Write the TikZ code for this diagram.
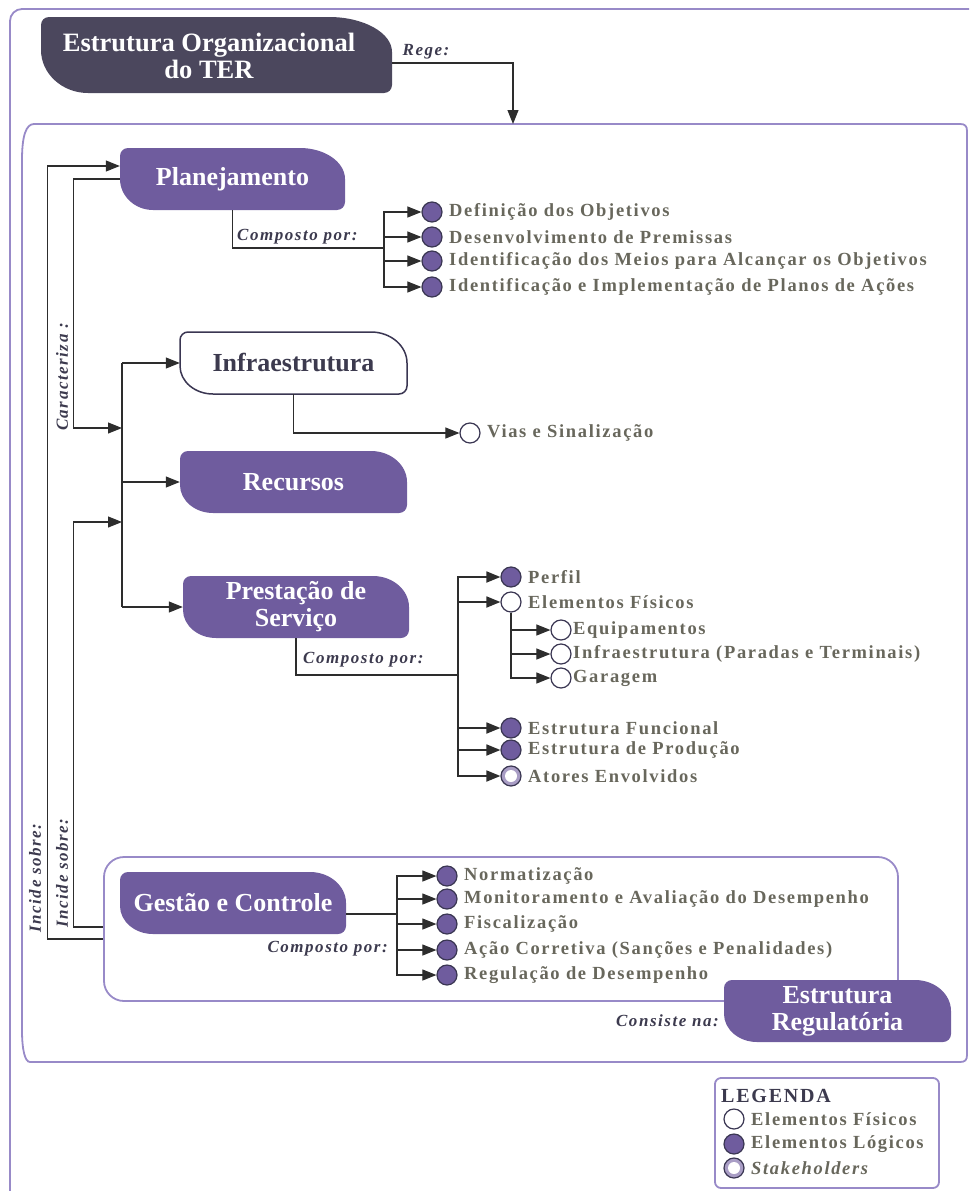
\documentclass[tikz,border=0pt]{standalone}
\usepackage{fontspec}
\setmainfont{Liberation Serif}
\newfontfamily\spaced[LetterSpace=9]{Liberation Serif}
\usetikzlibrary{arrows.meta,calc}
\definecolor{purp}{RGB}{111,92,158}
\definecolor{hdr}{RGB}{75,71,93}
\definecolor{frm}{RGB}{152,138,200}
\definecolor{itm}{RGB}{104,103,92}
\definecolor{lbl}{RGB}{60,58,78}
\definecolor{ln}{RGB}{45,45,45}
\definecolor{circ}{RGB}{58,54,82}
% #1 style, #2 x1, #3 y1, #4 x2, #5 y2, #6 RxTR, #7 RyTR, #8 RxBL, #9 RyBL
\newcommand{\leafshape}[9]{%
 \path[#1] ({#2},{#5-#9}) -- ({#2},{#3+8}) .. controls ({#2},{#3+3.6}) and ({#2+3.6},{#3}) .. ({#2+8},{#3})
 -- ({#4-#6},{#3}) .. controls ({#4-0.45*#6},{#3}) and ({#4},{#3+0.45*#7}) .. ({#4},{#3+#7})
 -- ({#4},{#5-8}) .. controls ({#4},{#5-3.6}) and ({#4-3.6},{#5}) .. ({#4-8},{#5})
 -- ({#2+#8},{#5}) .. controls ({#2+0.45*#8},{#5}) and ({#2},{#5-0.45*#9}) .. ({#2},{#5-#9}) -- cycle;}
\tikzset{
 box/.style={fill=purp},
 wbox/.style={fill=white, draw=circ, line width=1.5pt},
 btext/.style={text=white, font=\fontsize{26}{27}\selectfont\bfseries, align=center, inner sep=0pt},
 item/.style={anchor=west, text=itm, font=\spaced\fontsize{18.5}{20}\selectfont\bfseries, inner sep=0pt},
 lab/.style={text=lbl, font=\spaced\fontsize{17}{19}\selectfont\bfseries\itshape, inner sep=0pt},
 logi/.style={circle, draw=circ, fill=purp, line width=1.2pt, minimum size=20pt, inner sep=0pt},
 phys/.style={circle, draw=circ, fill=white, line width=1.2pt, minimum size=20pt, inner sep=0pt},
 stake/.style={circle, draw=circ, fill=purp!60, line width=1.2pt, minimum size=20pt, inner sep=0pt,
   path picture={\fill[white] (path picture bounding box.center) circle[radius=6pt];}},
 conn/.style={draw=ln, line width=1.1pt},
 comp/.style={draw=ln, line width=1.8pt},
 tip/.style={-{Triangle[length=14pt,width=11pt]}},
 frame/.style={draw=frm, line width=1.8pt},
}
\begin{document}
\begin{tikzpicture}[x=1pt,y=-1pt]
\useasboundingbox (0,0) rectangle (969,1191);
\clip (0,0) rectangle (969,1191);
% outer frame
\draw[frame, rounded corners=12pt] (10,1200) -- (10,9) -- (990,9);
% inner frame
\draw[frame] (22,1030) -- (22,160) .. controls (22,136) and (26,124) .. (34,124) -- (960,124)
  .. controls (965,124) and (967,126) .. (967,131) -- (967,1055) .. controls (967,1060) and (965,1062) .. (960,1062)
  -- (30,1062) .. controls (25,1062) and (22,1050) .. (22,1030);
\coordinate (innertop) at (513,124);

% header
\leafshape{fill=hdr}{41}{17}{392}{93}{63}{35}{47}{43}
\node[inner sep=0pt, minimum width=351pt, minimum height=76pt] (head) at (216.5,55) {};
\node[btext, font=\fontsize{26.5}{27}\selectfont\bfseries] (headtxt) at (209,56) {Estrutura Organizacional\\do TER};
\node[lab] (rege) at (426,52) {Rege:};
\draw[conn,tip] ([yshift=-8pt]head.east) -| (innertop);

% Planejamento
\leafshape{box}{120}{148}{345}{210}{45}{31}{33}{31}
\node[btext, minimum width=225pt, minimum height=62pt] (plan) at (232.5,179) {Planejamento};
\coordinate (pbus) at (384,248);
\node[lab, anchor=west] (pcomp) at (237,237) {Composto por:};
\draw[comp] (plan.south) |- (pbus);
\node[logi] (p1) at (432,212) {};
\node[logi] (p2) at (432,237) {};
\node[logi] (p3) at (432,261) {};
\node[logi] (p4) at (432,287) {};
\node[item] (tp1) at (449,212) {Definição dos Objetivos};
\node[item] (tp2) at (449,237) {Desenvolvimento de Premissas};
\node[item] (tp3) at (449,261) {Identificação dos Meios para Alcançar os Objetivos};
\node[item] (tp4) at (449,287) {Identificação e Implementação de Planos de Ações};
\foreach \c in {p1,p2,p3,p4} \draw[conn,tip] (pbus) |- (\c);

% Infraestrutura
\leafshape{wbox}{180}{332}{407}{394}{36}{31}{33}{28}
\node[btext, text=lbl, minimum width=227pt, minimum height=62pt] (infra) at (293.5,363) {Infraestrutura};
\node[phys] (vias) at (470,433) {};
\node[item] (tvias) at (487,433) {Vias e Sinalização};
\draw[conn,tip] (infra.south) |- (vias);

% Recursos
\leafshape{box}{180}{451}{407}{513}{36}{31}{33}{28}
\node[btext, minimum width=227pt, minimum height=62pt] (rec) at (293.5,482) {Recursos};

% Prestacao
\leafshape{box}{183}{576}{409}{638}{36}{31}{33}{28}
\node[btext, minimum width=226pt, minimum height=62pt] (prest) at (296,607) {Prestação de\\Serviço};

% central bus
\coordinate (b1) at (122,363);
\coordinate (b2) at (122,482);
\coordinate (b3) at (122,607);
\coordinate (bin1) at (122,428);
\coordinate (bin2) at (122,522);
\draw[conn] (b1) -- (b3);
\draw[conn,tip] (b1) -- (infra.west);
\draw[conn,tip] (b2) -- (rec.west);
\draw[conn,tip] (b3) -- (prest.west);

% Prestacao items
\coordinate (sbus) at (458,675);
\node[lab, anchor=west] (scomp) at (303,660) {Composto por:};
\draw[comp] (prest.south) |- (sbus);
\node[logi] (s1) at (511,577) {};
\node[phys] (s2) at (511,602) {};
\node[logi] (s3) at (511,728) {};
\node[logi] (s4) at (511,750) {};
\node[stake] (s5) at (511,776) {};
\node[item] (ts1) at (528,577) {Perfil};
\node[item] (ts2) at (528,602) {Elementos Físicos};
\node[item] (ts3) at (528,728) {Estrutura Funcional};
\node[item] (ts4) at (528,750) {Estrutura de Produção};
\node[item] (ts5) at (528,776) {Atores Envolvidos};
\foreach \c in {s1,s2,s3,s4,s5} \draw[comp,tip] (sbus) |- (\c);
\node[phys] (e1) at (561,630) {};
\node[phys] (e2) at (561,654) {};
\node[phys] (e3) at (561,678) {};
\node[item] (te1) at (573,630) {Equipamentos};
\node[item] (te2) at (573,654) {Infraestrutura (Paradas e Terminais)};
\node[item] (te3) at (573,678) {Garagem};
\foreach \c in {e1,e2,e3} \draw[conn,tip] (s2.south) |- (\c);

% Gestao frame
\node[frame, rounded corners=20pt, minimum width=794pt, minimum height=144pt, inner sep=0pt] (gframe) at (501,929) {};
\leafshape{box}{120}{872}{346}{934}{36}{31}{33}{28}
\node[btext, minimum width=226pt, minimum height=62pt] (gest) at (233,903) {Gestão e Controle};
\coordinate (gbus) at (397,914);
\draw[comp] ([yshift=-11pt]gest.east) -- (gbus);
\node[lab, anchor=east] (gcomp) at (388,949) {Composto por:};
\node[logi] (g1) at (447,876) {};
\node[logi] (g2) at (447,899) {};
\node[logi] (g3) at (447,924) {};
\node[logi] (g4) at (447,950) {};
\node[logi] (g5) at (447,975) {};
\node[item] (tg1) at (464,876) {Normatização};
\node[item] (tg2) at (464,899) {Monitoramento e Avaliação do Desempenho};
\node[item] (tg3) at (464,924) {Fiscalização};
\node[item] (tg4) at (464,950) {Ação Corretiva (Sanções e Penalidades)};
\node[item] (tg5) at (464,975) {Regulação de Desempenho};
\foreach \c in {g1,g2,g3,g4,g5} \draw[conn,tip] (gbus) |- (\c);

% Estrutura Regulatoria
\leafshape{box}{724}{980}{951}{1042}{36}{31}{33}{28}
\node[btext, minimum width=227pt, minimum height=62pt] (ereg) at (837.5,1011) {Estrutura\\Regulatória};
\node[lab, anchor=east] (consiste) at (719,1021) {Consiste na:};

% left lines
\draw[conn,tip] ([yshift=-10pt]gframe.west) -- ++(-56,0) |- ([yshift=13pt]plan.west);
\draw[conn,tip] (plan.west) -- ++(-46,0) |- (bin1);
\draw[conn,tip] ([yshift=2pt]gframe.west) -- ++(-30,0) |- (bin2);
\node[lab, rotate=90] (carac) at (62,377) {Caracteriza :};
\node[lab, rotate=90] (inc1) at (35,878) {Incide sobre:};
\node[lab, rotate=90] (inc2) at (62,873) {Incide sobre:};

% legend
\node[frame, fill=white, rounded corners=6pt, minimum width=224pt, minimum height=110pt, inner sep=0pt] (leg) at (827,1133) {};
\node[anchor=west, text=lbl, font=\spaced\fontsize{20}{22}\selectfont\bfseries, inner sep=0pt] (legt) at (721,1096) {LEGENDA};
\node[phys] (l1) at (734,1119) {};
\node[logi] (l2) at (734,1144) {};
\node[stake] (l3) at (734,1168) {};
\node[item] (tl1) at (751,1119) {Elementos Físicos};
\node[item] (tl2) at (751,1144) {Elementos Lógicos};
\node[item, font=\spaced\fontsize{18.5}{20}\selectfont\bfseries\itshape] (tl3) at (751,1168) {Stakeholders};
\end{tikzpicture}
\end{document}
